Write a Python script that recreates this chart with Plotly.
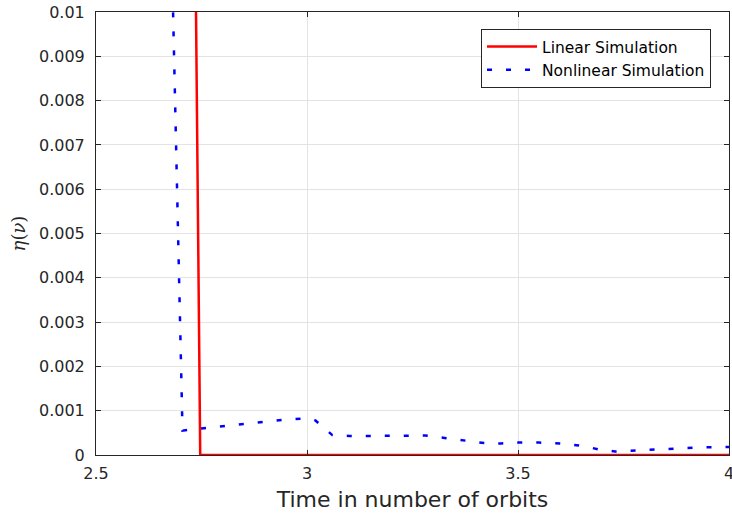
import plotly.graph_objects as go

# Linear simulation
lin_x = [2.70, 2.747, 3.0, 3.5, 4.0]
lin_y = [0.047, 0.0, 0.0, 0.0, 0.0]

# Nonlinear simulation
nl_x = [2.64, 2.705, 2.75, 2.80, 2.85, 2.90, 2.95, 3.00, 3.02, 3.06, 3.10, 3.15,
        3.20, 3.25, 3.28, 3.33, 3.38, 3.42, 3.46, 3.50, 3.55, 3.60, 3.65, 3.69,
        3.73, 3.78, 3.83, 3.88, 3.93, 4.0]
nl_y = [0.028, 0.00055, 0.0006, 0.00065, 0.0007, 0.00075, 0.0008, 0.00083, 0.00078,
        0.00045, 0.00043, 0.00043, 0.00044, 0.00045, 0.00044, 0.00038, 0.00031,
        0.00027, 0.00026, 0.00028, 0.00028, 0.00026, 0.00021, 0.00013, 0.00008,
        0.0001, 0.00012, 0.00015, 0.00017, 0.00018]

x_ticks = [2.5, 3, 3.5, 4]
x_tick_labels = ["2.5", "3", "3.5", "4"]
y_ticks = [0, 0.001, 0.002, 0.003, 0.004, 0.005, 0.006, 0.007, 0.008, 0.009, 0.01]
y_tick_labels = ["0", "0.001", "0.002", "0.003", "0.004", "0.005", "0.006",
                 "0.007", "0.008", "0.009", "0.01"]

fig = go.Figure()
fig.add_trace(go.Scatter(x=lin_x, y=lin_y, mode="lines", name="Linear Simulation",
                         line=dict(color="#ff0000", width=2.5)))
fig.add_trace(go.Scatter(x=nl_x, y=nl_y, mode="lines", name="Nonlinear Simulation",
                         line=dict(color="#0000ff", width=2.5, dash="5px,14px")))

axis_common = dict(showline=True, linecolor="#262626", linewidth=1, mirror="ticks",
                   ticks="inside", ticklen=5, tickcolor="#262626", automargin=False,
                   showgrid=True, gridcolor="#e3e3e3", gridwidth=1, zeroline=False,
                   ticklabeloverflow="allow",
                   tickfont=dict(family="DejaVu Sans", size=16, color="#262626"))

fig.update_xaxes(range=[2.5, 4], tickvals=x_ticks, ticktext=x_tick_labels,
                 ticklabelstandoff=4,
                 title=dict(text="Time in number of orbits",
                            font=dict(family="DejaVu Sans", size=22, color="#262626"),
                            standoff=9),
                 **axis_common)
fig.update_yaxes(range=[0, 0.01], tickvals=y_ticks, ticktext=y_tick_labels,
                 ticklabelstandoff=7,
                 title=dict(text="<i>η</i>(<i>ν</i>)",
                            font=dict(family="DejaVu Serif", size=18, color="#262626"),
                            standoff=8),
                 **axis_common)

fig.update_layout(
    width=732, height=518,
    margin=dict(l=96, r=3, t=12, b=63),
    paper_bgcolor="white", plot_bgcolor="white",
    showlegend=True,
    legend=dict(x=0.9716, y=0.9616, xanchor="right", yanchor="top",
                bgcolor="white", bordercolor="#262626", borderwidth=1,
                font=dict(family="DejaVu Sans", size=15.5, color="#000000"),
                tracegroupgap=0, itemwidth=50),
)

fig.write_html("out.html", config={"displayModeBar": False},
               post_script="document.body.style.margin='0';document.body.style.overflow='hidden';")
